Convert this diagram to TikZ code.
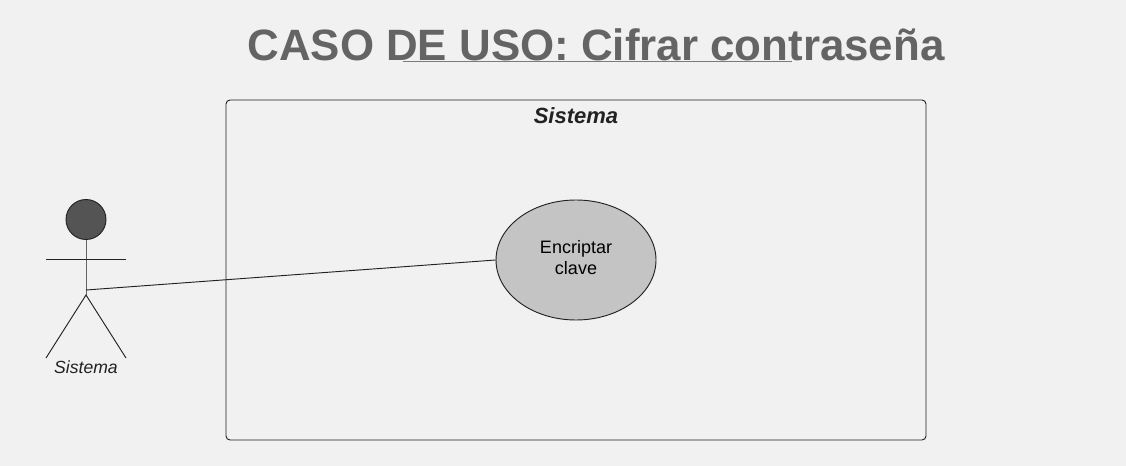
\documentclass[tikz,border=0pt]{standalone}
\usepackage{fontspec}
\usetikzlibrary{shapes.geometric}
\setmainfont{Liberation Sans}
\definecolor{bgc}{HTML}{F1F1F1}
\definecolor{ttl}{HTML}{646464}
\definecolor{ink}{HTML}{222222}
\tikzset{x=0.75pt,y=-0.75pt,
 lin/.style={draw=ink,line width=0.7pt},
 txt/.style={inner sep=0,align=center,text=black,font=\fontsize{13.5pt}{15.9pt}\selectfont}}
\begin{document}
\begin{tikzpicture}
\path[use as bounding box,fill=bgc] (0,0) rectangle (1126,466);
\node[inner sep=0,text=ttl,font=\fontsize{32.9pt}{38pt}\selectfont\bfseries] (title) at (596,44.5) {CASO DE USO: Cifrar contraseña};
\coordinate (ula) at (403,61.5);
\coordinate (ulb) at (792,61.5);
\draw[draw=ttl!85,line width=1.1pt] (ula) -- (ulb);
\node[lin,rounded corners=3pt,minimum width=525pt,minimum height=255pt,inner sep=0] (sys) at (576,270) {};
\node[inner sep=0,font=\fontsize{16.5pt}{20pt}\selectfont\bfseries\itshape,text=ink] (syslabel) at (576,115.5) {Sistema};
\node[lin,ellipse,fill=black!23,minimum width=120pt,minimum height=90pt,inner sep=0] (uc) at (576,260) {};
\node[txt] (uclabel) at (576,257.5) {Encriptar\\clave};
\node[lin,circle,fill=black!67,minimum size=30pt,inner sep=0] (head) at (86,219.5) {};
\coordinate (hipsL) at (46,259);
\coordinate (hipsR) at (126,259);
\coordinate (waist) at (86,290);
\coordinate (crotch) at (86,295);
\coordinate (footL) at (46,358);
\coordinate (footR) at (126,358);
\draw[draw=ink!70,line width=0.7pt] (head.south) -- (crotch);
\draw[lin] (hipsL) -- (hipsR);
\draw[lin] (footL) -- (crotch) -- (footR);
\node[inner sep=0,font=\fontsize{13.2pt}{15pt}\selectfont\itshape,text=ink] (actor) at (86,367) {Sistema};
\draw[lin] (waist) -- (uc.west);
\end{tikzpicture}
\end{document}
